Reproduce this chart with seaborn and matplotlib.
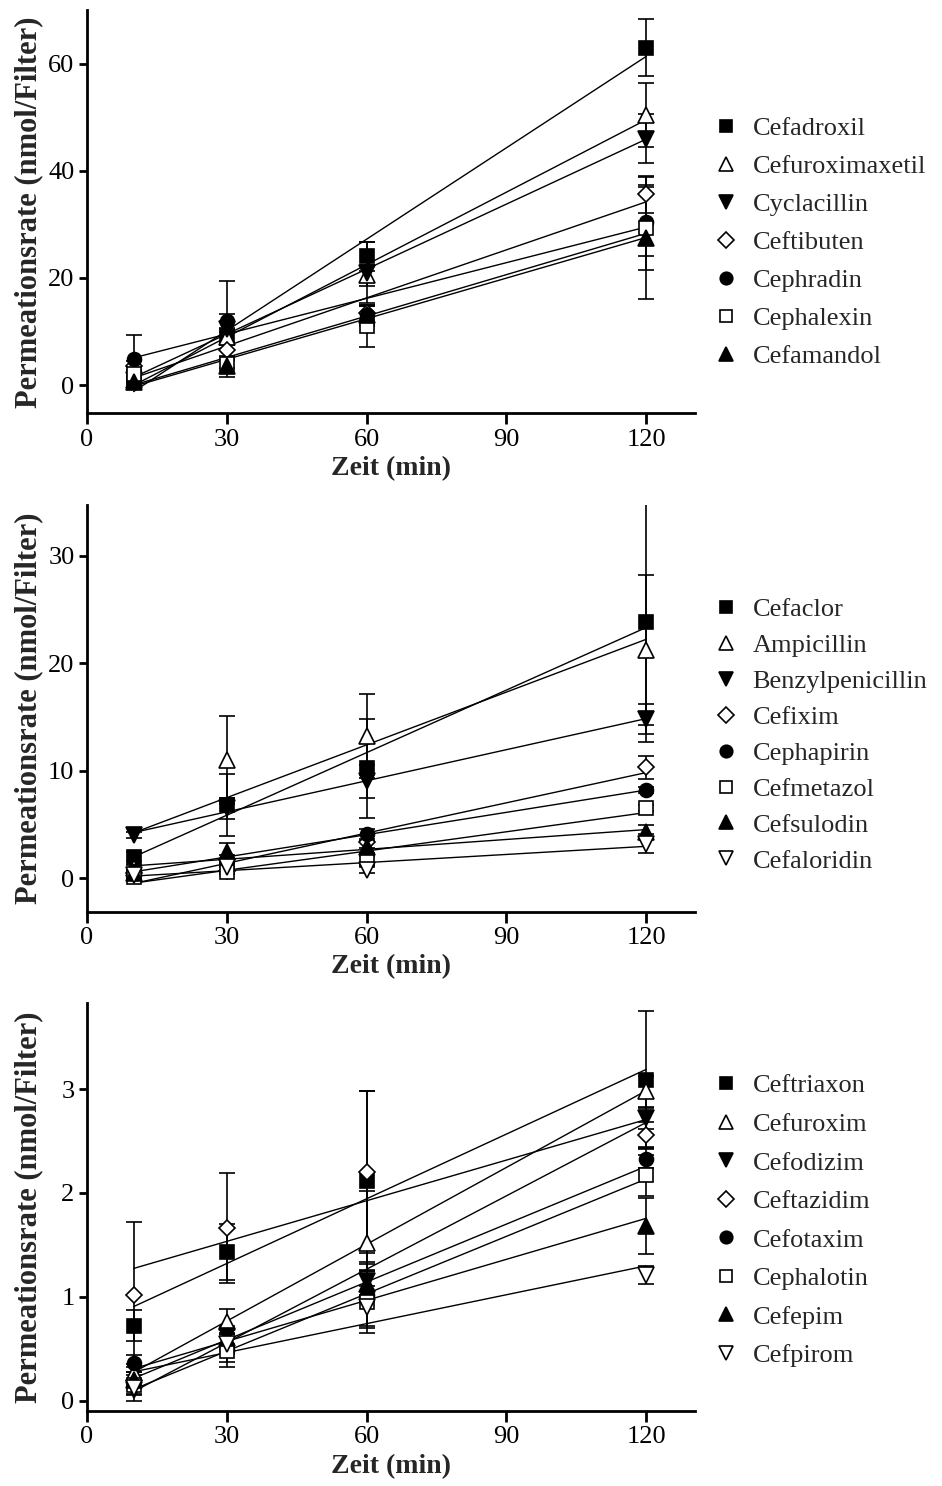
import numpy as np
import pandas as pd
import matplotlib
matplotlib.use("Agg")
import matplotlib.pyplot as plt
import seaborn as sns

# ---------------- data ----------------
times = [10, 30, 60, 120]

p1_names = ["Cefadroxil", "Cefuroximaxetil", "Cyclacillin", "Ceftibuten",
            "Cephradin", "Cephalexin", "Cefamandol"]
p1_means = [
    [1.5, 9.0, 24.0, 63.0],
    [1.0, 9.0, 20.5, 50.4],
    [1.0, 10.5, 21.0, 46.0],
    [3.5, 6.5, 13.5, 35.6],
    [4.8, 12.0, 13.0, 30.5],
    [2.0, 4.0, 11.0, 29.4],
    [0.5, 3.5, 13.0, 27.5],
]
p1_sd = [
    [0.8, 1.5, 2.7, 5.4],
    [0.5, 1.0, 2.0, 6.0],
    [0.5, 9.0, 5.7, 4.5],
    [1.0, 1.0, 1.5, 3.5],
    [4.5, 1.3, 2.0, 6.5],
    [0.8, 0.8, 3.8, 8.0],
    [0.5, 1.2, 1.8, 11.4],
]

p2_names = ["Cefaclor", "Ampicillin", "Benzylpenicillin", "Cefixim",
            "Cephapirin", "Cefmetazol", "Cefsulodin", "Cefaloridin"]
p2_means = [
    [2.0, 6.8, 10.2, 23.8],
    [0.9, 11.0, 13.2, 21.2],
    [4.0, 6.5, 9.0, 14.8],
    [0.5, 0.7, 3.4, 10.3],
    [0.7, 1.8, 4.1, 8.2],
    [0.1, 0.6, 1.7, 6.5],
    [0.5, 2.4, 2.9, 4.3],
    [0.3, 1.0, 0.8, 3.2],
]
p2_sd = [
    [0.4, 2.9, 4.6, 11.1],
    [0.3, 4.1, 3.9, 7.0],
    [0.3, 1.0, 1.5, 1.4],
    [0.2, 0.3, 0.6, 1.1],
    [0.2, 0.4, 0.5, 0.3],
    [0.1, 0.2, 0.4, 0.3],
    [0.2, 0.9, 0.6, 0.6],
    [0.1, 0.3, 0.3, 0.9],
]

p3_names = ["Ceftriaxon", "Cefuroxim", "Cefodizim", "Ceftazidim",
            "Cefotaxim", "Cephalotin", "Cefepim", "Cefpirom"]
p3_means = [
    [0.72, 1.43, 2.12, 3.09],
    [0.27, 0.76, 1.52, 2.98],
    [0.10, 0.62, 1.15, 2.72],
    [1.02, 1.66, 2.20, 2.56],
    [0.36, 0.49, 1.02, 2.33],
    [0.15, 0.48, 0.95, 2.17],
    [0.20, 0.60, 1.12, 1.68],
    [0.12, 0.55, 0.90, 1.21],
]
p3_sd = [
    [0.15, 0.27, 0.86, 0.66],
    [0.08, 0.12, 0.50, 0.15],
    [0.10, 0.10, 0.19, 0.10],
    [0.70, 0.53, 0.78, 0.12],
    [0.08, 0.12, 0.30, 0.09],
    [0.10, 0.16, 0.30, 0.20],
    [0.08, 0.10, 0.13, 0.27],
    [0.06, 0.10, 0.20, 0.09],
]

x_ticks = [0, 30, 60, 90, 120]
p1_yticks = [0, 20, 40, 60]
p2_yticks = [0, 10, 20, 30]
p3_yticks = [0, 1, 2, 3]

x_label = "Zeit (min)"
y_label = "Permeationsrate (nmol/Filter)"

# ---------------- style ----------------
sns.set_theme(style="ticks")
plt.rcParams["font.family"] = ["Liberation Serif", "DejaVu Serif"]
plt.rcParams["axes.linewidth"] = 2.0

# marker, filled?
marker_styles = [("s", True), ("^", False), ("v", True), ("D", False),
                 ("o", True), ("s", False), ("^", True), ("v", False)]

fig = plt.figure(figsize=(9.42, 14.86), dpi=100)

W, H = 942.0, 1486.0
panels = [
    dict(names=p1_names, means=p1_means, sd=p1_sd, yticks=p1_yticks,
         ylim=(-5.3, 70), top=10, bottom=413.5, leg_top=117, spacing=0.55),
    dict(names=p2_names, means=p2_means, sd=p2_sd, yticks=p2_yticks,
         ylim=(-3.1, 34.7), top=505, bottom=911.5, leg_top=598, spacing=0.47),
    dict(names=p3_names, means=p3_means, sd=p3_sd, yticks=p3_yticks,
         ylim=(-0.1, 3.83), top=1003, bottom=1411, leg_top=1074, spacing=0.57),
]

left_px, right_px = 87, 695

for p in panels:
    ax = fig.add_axes([left_px / W, 1 - p["bottom"] / H,
                       (right_px - left_px) / W, (p["bottom"] - p["top"]) / H])
    handles = []
    for i, name in enumerate(p["names"]):
        df = pd.DataFrame({"Zeit": times, "Rate": p["means"][i]})
        sns.regplot(data=df, x="Zeit", y="Rate", ci=None, scatter=False,
                    truncate=True, color="black",
                    line_kws=dict(lw=1.0, color="black", zorder=2), ax=ax)
    for i, name in enumerate(p["names"]):
        mk, filled = marker_styles[i]
        ms = 8.5 if mk == "D" else (11 if mk in "^v" else 10)
        c = ax.errorbar(times, p["means"][i], yerr=p["sd"][i], fmt=mk,
                        ms=ms, mfc="black" if filled else "white",
                        mec="black", mew=1.2, ecolor="black", elinewidth=1.2,
                        capsize=5.5, capthick=1.6, zorder=3, label=name)
        handles.append(c[0])
    ax.set_xlim(0, 130.5)
    ax.set_ylim(*p["ylim"])
    ax.set_xticks(x_ticks)
    ax.set_yticks(p["yticks"])
    ax.set_xlabel(x_label, fontsize=20, fontweight="bold", labelpad=4)
    ax.set_ylabel(y_label, fontsize=22, fontweight="bold")
    ax.yaxis.set_label_coords(-0.072, 0.5)
    ax.tick_params(axis="both", labelsize=19, width=2, length=6, color="black",
                   labelcolor="black", pad=3)
    ax.tick_params(axis="x", length=8)
    sns.despine(ax=ax)
    for s in ("left", "bottom"):
        ax.spines[s].set_color("black")
        ax.spines[s].set_linewidth(2.0)
    ax.set_facecolor("white")
    leg = ax.legend(handles, p["names"], loc="upper left",
                    bbox_to_anchor=(713 / W, 1 - p["leg_top"] / H),
                    bbox_transform=fig.transFigure, frameon=False,
                    fontsize=19, markerscale=0.9, handlelength=1.0,
                    handletextpad=0.5, borderpad=0, borderaxespad=0,
                    labelspacing=p["spacing"])

fig.savefig("out.png", dpi=100, facecolor="white")
